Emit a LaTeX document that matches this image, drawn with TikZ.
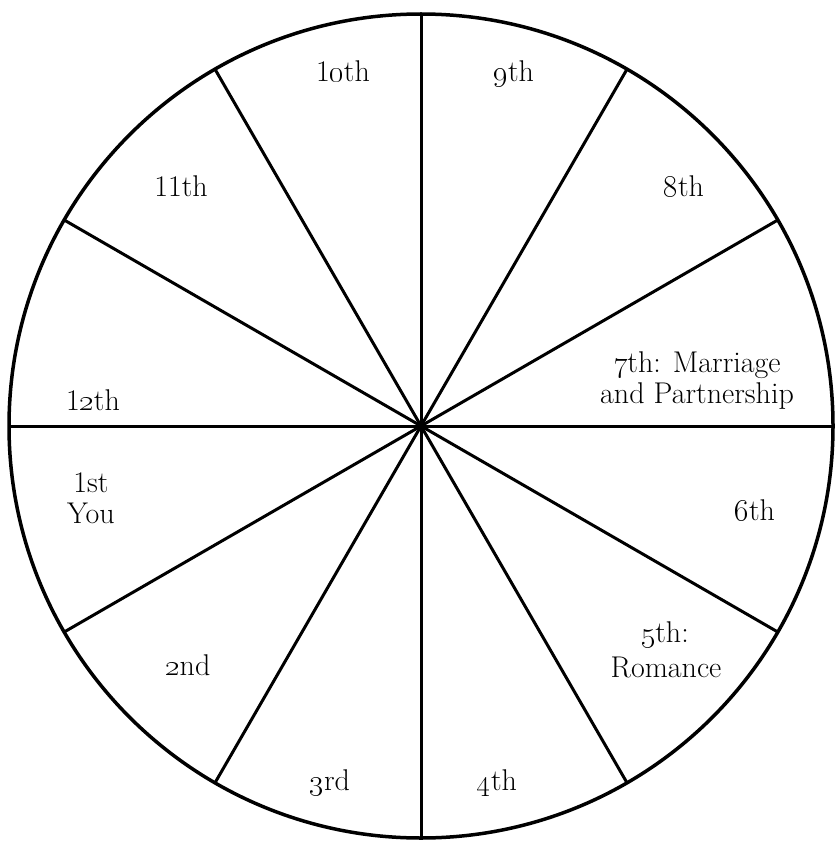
\RequirePackage{fix-cm}
\documentclass[tikz,border=0pt]{standalone}
\begin{document}
\begin{tikzpicture}[x=1pt,y=-1pt,
  spoke/.style={line width=3pt},
  rim/.style={line width=3.5pt},
  lbl/.style={font=\fontsize{30}{36}\selectfont, anchor=base, inner sep=0pt}]
\useasboundingbox (0,0) rectangle (837,842);
\coordinate (c) at (421,426);
\draw[rim] (c) circle[radius=412];
\foreach \a in {0,30,...,330} \draw[spoke] (c) -- ++(\a:412);
\fill (c) circle[radius=5];
\node[lbl] (h10) at (343,82) {1\oldstylenums{0}th};
\node[lbl] (h9) at (514,82) {\oldstylenums{9}th};
\node[lbl] (h11) at (181,197) {11th};
\node[lbl] (h8) at (684,197) {\oldstylenums{8}th};
\node[lbl] (h12) at (93,410) {1\oldstylenums{2}th};
\node[lbl] (h7a) at (697,372) {\oldstylenums{7}th: Marriage};
\node[lbl] (h7b) at (697,403) {and Partnership};
\node[lbl] (h1a) at (91,492) {1st};
\node[lbl] (h1b) at (91,523) {You};
\node[lbl] (h6) at (755,520) {\oldstylenums{6}th};
\node[lbl] (h2) at (188,675) {\oldstylenums{2}nd};
\node[lbl] (h5a) at (665,642) {\oldstylenums{5}th:};
\node[lbl] (h5b) at (666,677) {Romance};
\node[lbl] (h3) at (330,790) {\oldstylenums{3}rd};
\node[lbl] (h4) at (497,790) {\oldstylenums{4}th};
\end{tikzpicture}
\end{document}
